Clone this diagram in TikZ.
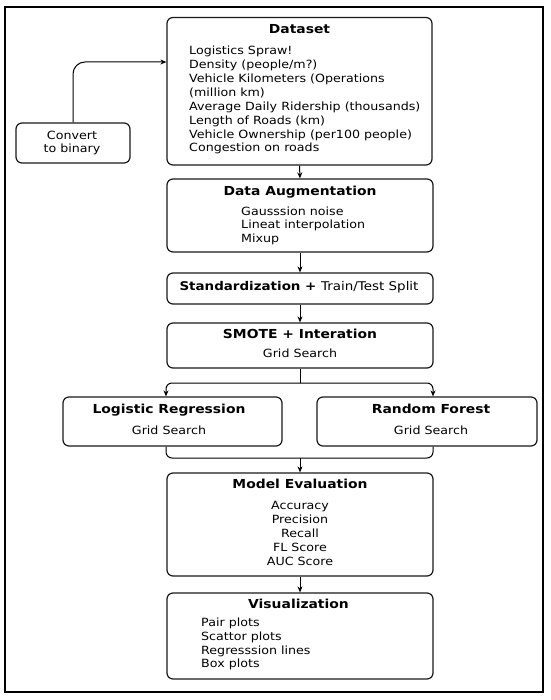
\documentclass[tikz,border=0pt]{standalone}
\usepackage{fontspec}
\setmainfont[FakeStretch=1.12]{DejaVu Sans}
\usetikzlibrary{arrows.meta}
\begin{document}
\begin{tikzpicture}[x=1pt,y=-1pt,
 box/.style={draw=black!90, line width=1.2pt, rounded corners=6pt, inner sep=0pt},
 ttl/.style={font=\fontsize{12.4}{16}\selectfont\bfseries, inner sep=0pt, anchor=mid},
 itm/.style={font=\fontsize{11.3}{14}\selectfont, inner sep=0pt, anchor=mid west},
 itc/.style={font=\fontsize{11.3}{14}\selectfont, inner sep=0pt, anchor=mid},
 arr/.style={-{Stealth[length=6pt,width=5pt]}, line width=1pt},
 ln/.style={line width=1pt}]
\useasboundingbox (0,0) rectangle (550,700);
\fill[white] (0,0) rectangle (550,700);
\draw[line width=2pt] (5,7) rectangle (543,692);

% boxes
\node[box, minimum width=265pt, minimum height=147.5pt] (ds) at (299.5,91.25) {};
\node[box, minimum width=266pt, minimum height=73pt] (da) at (300,215.5) {};
\node[box, minimum width=266pt, minimum height=31pt] (st) at (300,288.5) {};
\node[box, minimum width=266pt, minimum height=45pt] (sm) at (300,345.5) {};
\node[box, minimum width=219pt, minimum height=49pt] (lr) at (172.5,421.5) {};
\node[box, minimum width=220pt, minimum height=49pt] (rf) at (427,421.5) {};
\node[box, minimum width=266pt, minimum height=103pt] (me) at (300,524.5) {};
\node[box, minimum width=266pt, minimum height=86pt] (vi) at (300,636) {};
\node[box, minimum width=114pt, minimum height=40pt] (cv) at (73,143) {};

% texts
\node[ttl] (dst) at (299.5,31) {Dataset};
\node[itm] (d1) at (189,52) {Logistics Spraw!};
\node[itm] (d2) at (189,66) {Density (people/m?)};
\node[itm] (d3) at (189,80) {Vehicle Kilometers (Operations};
\node[itm] (d4) at (189,93.5) {(million km)};
\node[itm] (d5) at (189,107.5) {Average Daily Ridership (thousands)};
\node[itm] (d6) at (189,121.5) {Length of Roads (km)};
\node[itm] (d7) at (189,135.5) {Vehicle Ownership (per100 people)};
\node[itm] (d8) at (189,149) {Congestion on roads};

\node[ttl] (dat) at (300,193) {Data Augmentation};
\node[itm] (a1) at (241,212.7) {Gausssion noise};
\node[itm] (a2) at (241,225.8) {Lineat interpolation};
\node[itm] (a3) at (241,239.3) {Mixup};

\node[ttl, font=\fontsize{12}{16}\selectfont] (stt) at (299,288) {\bfseries Standardization + \mdseries Train/Test Split};

\node[ttl] (smt) at (300,336) {SMOTE + Interation};
\node[itc] (smg) at (300,355) {Grid Search};

\node[ttl] (lrt) at (169,411) {Logistic Regression};
\node[itc] (lrg) at (169,432) {Grid Search};
\node[ttl] (rft) at (431,411) {Random Forest};
\node[itc] (rfg) at (431,432) {Grid Search};

\node[ttl] (met) at (300,486) {Model Evaluation};
\node[itc] (m1) at (300,507) {Accuracy};
\node[itc] (m2) at (300,521) {Precision};
\node[itc] (m3) at (300,535) {Recall};
\node[itc] (m4) at (300,549) {FL Score};
\node[itc] (m5) at (300,563) {AUC Score};

\node[ttl] (vit) at (298.5,606) {Visualization};
\node[itm] (v1) at (201,624) {Pair plots};
\node[itm] (v2) at (201,638) {Scattor plots};
\node[itm] (v3) at (201,652) {Regresssion lines};
\node[itm] (v4) at (201,665) {Box plots};

\node[itc] (cv1) at (72,137) {Convert};
\node[itc] (cv2) at (72,150) {to binary};

% connectors
\coordinate (cy) at (0,62);
\coordinate (xl) at (166,0);
\coordinate (xr) at (433,0);
\coordinate (split) at (300,383);
\coordinate (merge) at (300,458);

\draw[arr, rounded corners=12pt] (cv.north) |- (ds.west |- cy);
\draw[arr] (ds.south) -- (da.north);
\draw[arr] (da.south) -- (st.north);
\draw[arr] (st.south) -- (sm.north);
\draw[ln] (sm.south) -- (split);
\draw[arr, rounded corners=6pt] (split) -| (lr.north -| xl);
\draw[arr, rounded corners=6pt] (split) -| (rf.north -| xr);
\draw[ln, rounded corners=6pt] (lr.south -| xl) |- (merge) -| (rf.south -| xr);
\draw[arr] (merge) -- (me.north);
\draw[arr] (me.south) -- (vi.north);
\end{tikzpicture}
\end{document}
